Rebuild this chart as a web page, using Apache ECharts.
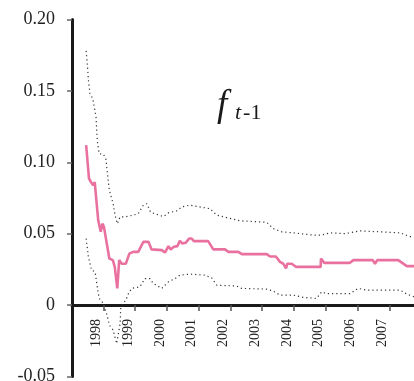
<!DOCTYPE html>
<html>
<head>
<meta charset="utf-8">
<script src="https://cdn.jsdelivr.net/npm/echarts@6/dist/echarts.min.js"></script>
<style>html,body{margin:0;padding:0;background:#fff}#c{width:414px;height:381px}</style>
</head>
<body>
<div id="c"></div>
<script>
// Tick labels
var yearTicks = [1998, 1999, 2000, 2001, 2002, 2003, 2004, 2005, 2006, 2007];
var yearLabels = ['1998', '1999', '2000', '2001', '2002', '2003', '2004', '2005', '2006', '2007'];
var yTickLabels = ['-0.05', '0', '0.05', '0.10', '0.15', '0.20'];

// Estimate f_{t-1} (decimal years, value)
var estTime = [1997.46, 1997.55, 1997.61, 1997.68, 1997.73, 1997.84, 1997.92, 1997.97, 1998.02, 1998.19, 1998.23, 1998.30, 1998.36, 1998.44, 1998.50, 1998.58, 1998.71, 1998.82, 1998.94, 1999.10, 1999.26, 1999.42, 1999.52, 1999.84, 1999.94, 2000.05, 2000.12, 2000.22, 2000.33, 2000.41, 2000.49, 2000.59, 2000.70, 2000.78, 2000.85, 2001.30, 2001.46, 2001.83, 2001.93, 2002.25, 2002.36, 2003.14, 2003.25, 2003.43, 2003.56, 2003.66, 2003.75, 2003.79, 2003.93, 2004.06, 2004.84, 2004.85, 2004.95, 2005.76, 2005.87, 2006.48, 2006.55, 2006.62, 2007.28, 2007.44, 2007.55, 2007.78];
var estValue = [0.112, 0.0886, 0.0862, 0.084, 0.0862, 0.0594, 0.0513, 0.057, 0.0548, 0.0326, 0.034, 0.0315, 0.0268, 0.0117, 0.0315, 0.029, 0.029, 0.036, 0.0373, 0.0373, 0.0443, 0.0443, 0.039, 0.0385, 0.0368, 0.0413, 0.039, 0.0408, 0.0413, 0.045, 0.0431, 0.0436, 0.0466, 0.0466, 0.0448, 0.0448, 0.039, 0.039, 0.0373, 0.0373, 0.0357, 0.0357, 0.034, 0.034, 0.0303, 0.029, 0.0257, 0.029, 0.029, 0.0268, 0.0268, 0.0326, 0.0296, 0.0296, 0.0315, 0.0315, 0.029, 0.0315, 0.0315, 0.029, 0.0273, 0.0273];

// Upper band
var upTime = [1997.46, 1997.50, 1997.53, 1997.58, 1997.67, 1997.73, 1997.77, 1997.81, 1997.87, 1998.00, 1998.08, 1998.13, 1998.19, 1998.23, 1998.31, 1998.37, 1998.44, 1998.53, 1998.68, 1998.94, 1999.10, 1999.26, 1999.37, 1999.49, 1999.89, 2000.05, 2000.31, 2000.47, 2000.73, 2001.36, 2001.57, 2001.88, 2002.30, 2003.14, 2003.35, 2003.62, 2003.98, 2004.61, 2004.87, 2005.13, 2005.61, 2006.08, 2007.34, 2007.65, 2007.78];
var upValue = [0.178, 0.168, 0.158, 0.148, 0.1445, 0.1445, 0.132, 0.115, 0.106, 0.1056, 0.1026, 0.092, 0.0804, 0.0804, 0.071, 0.063, 0.057, 0.0618, 0.0618, 0.063, 0.064, 0.070, 0.071, 0.065, 0.062, 0.0646, 0.066, 0.0688, 0.070, 0.0675, 0.063, 0.0613, 0.059, 0.058, 0.0536, 0.0513, 0.0506, 0.049, 0.049, 0.0506, 0.050, 0.052, 0.0506, 0.048, 0.048];

// Lower band
var loTime = [1997.46, 1997.53, 1997.63, 1997.74, 1997.81, 1997.87, 1998.00, 1998.13, 1998.19, 1998.31, 1998.42, 1998.47, 1998.53, 1998.55, 1998.71, 1998.79, 1998.89, 1999.15, 1999.31, 1999.47, 1999.57, 1999.84, 2000.05, 2000.26, 2000.41, 2000.73, 2001.20, 2001.41, 2001.57, 2002.20, 2002.35, 2003.14, 2003.35, 2003.56, 2003.98, 2004.29, 2004.71, 2004.87, 2005.03, 2005.76, 2006.02, 2006.29, 2007.34, 2007.55, 2007.78];
var loValue = [0.0466, 0.034, 0.0245, 0.0233, 0.0128, 0.0047, 0.0012, -0.008, -0.014, -0.0175, -0.027, -0.028, -0.0128, -0.001, 0.0035, 0.008, 0.0117, 0.0128, 0.0186, 0.0186, 0.0152, 0.0117, 0.0163, 0.0186, 0.021, 0.0217, 0.021, 0.019, 0.014, 0.0133, 0.0117, 0.0112, 0.0098, 0.007, 0.007, 0.0054, 0.0047, 0.0093, 0.008, 0.008, 0.0117, 0.0105, 0.0105, 0.0077, 0.0058];

function zip(a, b) { return a.map(function (t, i) { return [t, b[i]]; }); }

var serif = 'Liberation Serif';
var gridTop = 19.5, gridBottom = 4.5, H = 381;
var yMin = -0.05, yMax = 0.2;
// distance (px) from the grid bottom up to the zero line, so the x axis sits at y = 0
var zeroOffset = (H - gridTop - gridBottom) * (0 - yMin) / (yMax - yMin);

var chart = echarts.init(document.getElementById('c'), null, { renderer: 'canvas' });
chart.setOption({
  animation: false,
  backgroundColor: '#fff',
  grid: { left: 72, right: 0, top: gridTop, bottom: gridBottom, containLabel: false, outerBoundsMode: 'none' },
  xAxis: {
    type: 'value',
    position: 'bottom',
    offset: -zeroOffset,
    min: 1997.015,
    max: 2007.777,
    axisLine: { show: true, onZero: false, lineStyle: { color: '#1a1a1a', width: 3 } },
    axisTick: { show: true, customValues: yearTicks, length: 6, lineStyle: { color: '#555', width: 1.5 } },
    axisLabel: {
      customValues: yearTicks,
      rotate: 90,
      margin: 14,
      fontFamily: serif,
      fontSize: 14,
      color: '#222',
      verticalAlign: 'bottom',
      formatter: function (v) { var i = yearTicks.indexOf(Math.round(v)); return i >= 0 ? yearLabels[i] : ''; }
    },
    splitLine: { show: false }
  },
  yAxis: {
    type: 'value',
    min: yMin,
    max: yMax,
    interval: 0.05,
    axisLine: { show: true, onZero: false, lineStyle: { color: '#1a1a1a', width: 3 } },
    axisTick: { show: true, length: 5, lineStyle: { color: '#666', width: 1.5 } },
    axisLabel: {
      margin: 17,
      fontFamily: serif,
      fontSize: 18,
      color: '#222',
      formatter: function (v) { return yTickLabels[Math.round((v + 0.05) / 0.05)]; }
    },
    splitLine: { show: false }
  },
  graphic: [
    { type: 'text', left: 217, top: 88, style: { text: 'f', font: 'italic 37px "Liberation Serif"', fill: '#1a1a1a' } },
    { type: 'text', left: 235, top: 102, style: {
      text: '{t|t}{n|-1}', fill: '#1a1a1a',
      rich: {
        t: { fontFamily: serif, fontStyle: 'italic', fontSize: 22, fill: '#1a1a1a', color: '#1a1a1a' },
        n: { fontFamily: serif, fontSize: 22, fill: '#1a1a1a', color: '#1a1a1a', padding: [0, 0, 0, 2] }
      }
    } }
  ],
  series: [
    { type: 'line', data: zip(upTime, upValue), showSymbol: false, lineStyle: { color: '#333', width: 1.2, type: [1.2, 3] }, z: 2 },
    { type: 'line', data: zip(loTime, loValue), showSymbol: false, lineStyle: { color: '#333', width: 1.2, type: [1.2, 3] }, z: 2 },
    { type: 'line', data: zip(estTime, estValue), showSymbol: false, lineStyle: { color: '#e9719f', width: 2.6 }, z: 3 }
  ]
});
</script>
</body>
</html>
